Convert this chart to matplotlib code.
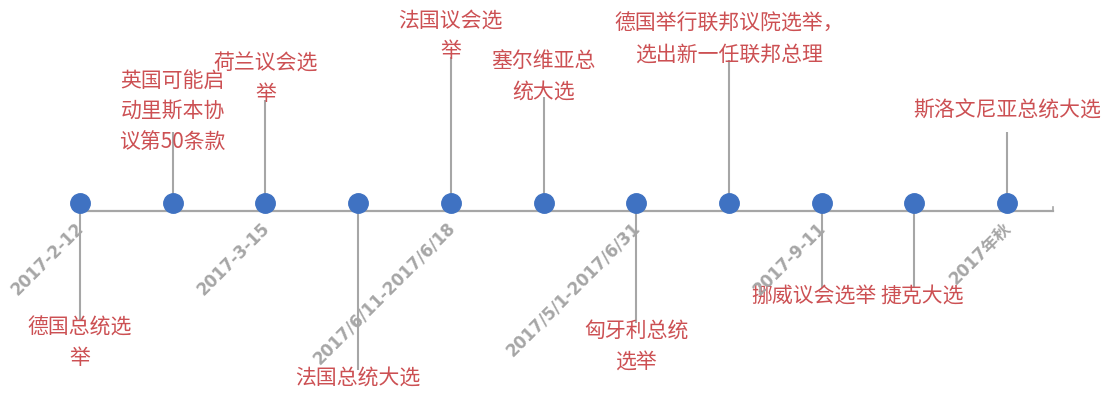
import numpy as np
import matplotlib.pyplot as plt

plt.rcParams['font.family'] = ['Noto Sans CJK SC', 'DejaVu Sans']

# events along the 2017 election timeline
events = [
    "德国总统选\n举",
    "英国可能启\n动里斯本协\n议第50条款",
    "荷兰议会选\n举",
    "法国总统大选",
    "法国议会选\n举",
    "塞尔维亚总\n统大选",
    "匈牙利总统\n选举",
    "德国举行联邦议院选举，\n选出新一任联邦总理",
    "挪威议会选举",
    "捷克大选",
    "斯洛文尼亚总统大选",
]
dates = ["2017-2-12", "", "2017-3-15", "", "2017/6/11-2017/6/18", "",
         "2017/5/1-2017/6/31", "", "2017-9-11", "", "2017年秋"]
# stem length (up positive, down negative)
heights = [-109, 79, 111, -159, 154, 114, -112, 151, -77, -77, 79]

gray = "#a6a6a6"
blue = "#3f72c2"
red = "#cc5053"

fig = plt.figure(figsize=(11.07, 3.98), dpi=100)
ax = fig.add_axes([0, 0, 1, 1])
ax.set_xlim(-80 / 92.7, 1027 / 92.7)
ax.set_ylim(-187, 211)
ax.axis("off")

x = np.arange(len(events))
dot_y = 8

ax.plot([0, 10.5], [0, 0], color=gray, lw=1.6, zorder=1)
ax.plot([10.5, 10.5], [0, 4], color=gray, lw=1.2, zorder=1)
ax.vlines(x, dot_y, heights, color=gray, lw=1.5, zorder=1)
ax.plot(x, np.full(len(x), dot_y), "o", ms=14, color=blue, zorder=3)

# small nudges so the two bottom-right labels don't collide
nudge = {8: -8, 9: 8}

for i, (ev, h) in enumerate(zip(events, heights)):
    dx = nudge.get(i, 0)
    if h > 0:
        ax.annotate(ev, xy=(i, h), xytext=(dx, 21), textcoords="offset pixels",
                    ha="center", va="center", multialignment="center",
                    color=red, fontsize=15, linespacing=1.5)
    else:
        ax.annotate(ev, xy=(i, h), xytext=(dx, 3), textcoords="offset pixels",
                    ha="center", va="top", multialignment="center",
                    color=red, fontsize=15, linespacing=1.5)

for i, d in enumerate(dates):
    if not d:
        continue
    ax.annotate(d, xy=(i, 0), xytext=(-5, -8), textcoords="offset pixels",
                rotation=45, rotation_mode="anchor", ha="right", va="top",
                color=gray, fontsize=12, fontweight="bold",
                family=["DejaVu Sans", "Noto Sans CJK SC"])

fig.savefig("out.png", dpi=100)
